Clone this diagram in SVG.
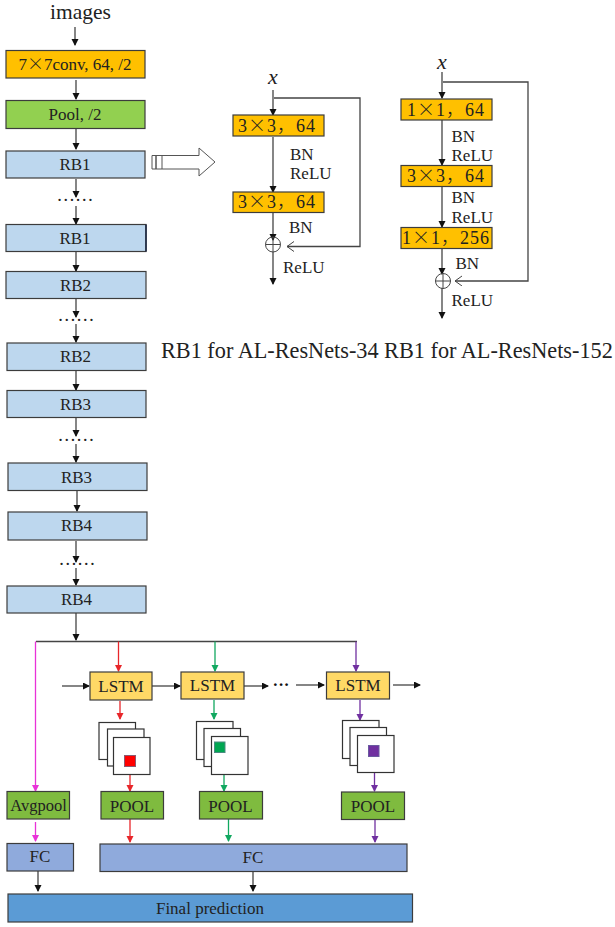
<svg xmlns="http://www.w3.org/2000/svg" width="615" height="927" viewBox="0 0 615 927">
<style>
text{font-family:"Liberation Serif","Times New Roman",serif;fill:#222;text-anchor:middle;font-size:17px}
.l{text-anchor:start}
.k{font-size:18px;letter-spacing:1px}
.h{font-family:"Noto Sans CJK SC",serif;font-weight:300}
.dots{font-size:18.500px}
.b{stroke:#3c3c3c;stroke-width:1.2}
.o{fill:#ffc000}.g{fill:#92d050}.p{fill:#7fbb3f}.r{fill:#bdd7ee}.y{fill:#ffd966}.f{fill:#8faadc}.d{fill:#5b9bd5}
.c{fill:none;stroke:#444;stroke-width:1.3}
.cr{stroke:#e8262a}.cg{stroke:#11a860}.cv{stroke:#7030a0}.cm{stroke:#e832d8}
.w{fill:#fff;stroke:#333;stroke-width:1.2}
</style>
<defs>
<marker id="a" markerWidth="8" markerHeight="8" refX="6" refY="3.500" orient="auto" markerUnits="userSpaceOnUse"><path d="M0 0L7 3.500L0 7Z" fill="#111"/></marker>
<marker id="ar" markerWidth="8" markerHeight="8" refX="6" refY="3.500" orient="auto" markerUnits="userSpaceOnUse"><path d="M0 0L7 3.500L0 7Z" fill="#e8262a"/></marker>
<marker id="ag" markerWidth="8" markerHeight="8" refX="6" refY="3.500" orient="auto" markerUnits="userSpaceOnUse"><path d="M0 0L7 3.500L0 7Z" fill="#11a860"/></marker>
<marker id="av" markerWidth="8" markerHeight="8" refX="6" refY="3.500" orient="auto" markerUnits="userSpaceOnUse"><path d="M0 0L7 3.500L0 7Z" fill="#7030a0"/></marker>
<marker id="am" markerWidth="8" markerHeight="8" refX="6" refY="3.500" orient="auto" markerUnits="userSpaceOnUse"><path d="M0 0L7 3.500L0 7Z" fill="#e832d8"/></marker>
<marker id="ao" markerWidth="10" markerHeight="12" refX="7" refY="5" orient="auto" markerUnits="userSpaceOnUse"><path d="M0 0L7 5L0 10" fill="none" stroke="#444" stroke-width="1"/></marker>
</defs>

<g id="connectors">
<g class="c">
<path d="M75 27V45" marker-end="url(#a)"/>
<path d="M76 80V99" marker-end="url(#a)"/>
<path d="M76 129V149" marker-end="url(#a)"/>
<path d="M76 179V197" marker-end="url(#a)"/>
<path d="M76 206V224" marker-end="url(#a)"/>
<path d="M76 252V271" marker-end="url(#a)"/>
<path d="M76 299V317" marker-end="url(#a)"/>
<path d="M76 324V342" marker-end="url(#a)"/>
<path d="M76 371V390" marker-end="url(#a)"/>
<path d="M76 418V436" marker-end="url(#a)"/>
<path d="M76 444V462" marker-end="url(#a)"/>
<path d="M77 491V511" marker-end="url(#a)"/>
<path d="M76 541V562" marker-end="url(#a)"/>
<path d="M76 568V585" marker-end="url(#a)"/>
<path d="M76 613V640" marker-end="url(#a)"/>
<path d="M36 641.500H357"/>
<path d="M62 686H89" marker-end="url(#a)"/>
<path d="M152 686H180" marker-end="url(#a)"/>
<path d="M241 686H268" marker-end="url(#a)"/>
<path d="M296 685H324" marker-end="url(#a)"/>
<path d="M393 685H420" marker-end="url(#a)"/>
<path d="M38 871V891" marker-end="url(#a)"/>
<path d="M253 872V891" marker-end="url(#a)"/>
<path d="M273 90V115" marker-end="url(#a)"/>
<path d="M273 137V192" marker-end="url(#a)"/>
<path d="M273 212V240" marker-end="url(#a)"/>
<path d="M273 252V284" marker-end="url(#a)"/>
<path d="M274 98H360V246.500H287" marker-end="url(#ao)"/>
<path d="M442 72V98" marker-end="url(#a)"/>
<path d="M442 120V165" marker-end="url(#a)"/>
<path d="M442 187V227" marker-end="url(#a)"/>
<path d="M442 249V274" marker-end="url(#a)"/>
<path d="M442 288V318" marker-end="url(#a)"/>
<path d="M443 82H528V281H455" marker-end="url(#ao)"/>
</g>
<g class="c cr">
<path d="M118.500 641.500V671" marker-end="url(#ar)"/>
<path d="M120 701V719" marker-end="url(#ar)"/>
<path d="M130 775V791" marker-end="url(#ar)"/>
<path d="M130 819V842" marker-end="url(#ar)"/>
</g>
<g class="c cg">
<path d="M215 641.500V671" marker-end="url(#ag)"/>
<path d="M214 700V719" marker-end="url(#ag)"/>
<path d="M224 774V791" marker-end="url(#ag)"/>
<path d="M228.500 819V841" marker-end="url(#ag)"/>
</g>
<g class="c cv">
<path d="M356 641.500V671" marker-end="url(#av)"/>
<path d="M360 700V720" marker-end="url(#av)"/>
<path d="M374.500 773V791" marker-end="url(#av)"/>
<path d="M375 819V842" marker-end="url(#av)"/>
</g>
<g class="c cm">
<path d="M35.500 641.500V791" marker-end="url(#am)"/>
<path d="M35.500 822V841" marker-end="url(#am)"/>
</g>
</g>

<text x="80.500" y="19.200" style="font-size:21.500px">images</text>
<g id="conv"><rect class="o b" x="6" y="50.500" width="139" height="27.500"/><text x="75" y="70">7<tspan class="h">×</tspan>7conv, 64, /2</text></g>
<g id="pool"><rect class="g b" x="6" y="100.500" width="139" height="28"/><text x="75" y="120">Pool, /2</text></g>
<g id="rb1a"><rect class="r b" x="6" y="151" width="139" height="27"/><text x="75" y="170">RB1</text></g>
<g id="rb1b"><rect class="r b" x="6" y="224.500" width="140" height="27"/><path d="M146 224.500V251.500" stroke="#1f2a44" stroke-width="1.600"/><text x="75" y="244">RB1</text></g>
<g id="rb2a"><rect class="r b" x="6" y="271.500" width="140" height="27"/><text x="75.500" y="291">RB2</text></g>
<g id="rb2b"><rect class="r b" x="7" y="343" width="139" height="27.500"/><text x="75.500" y="362">RB2</text></g>
<g id="rb3a"><rect class="r b" x="7" y="390.500" width="139" height="27"/><text x="75.500" y="410">RB3</text></g>
<g id="rb3b"><rect class="r b" x="8" y="463" width="139" height="27.500"/><text x="76.500" y="483">RB3</text></g>
<g id="rb4a"><rect class="r b" x="8" y="512" width="139" height="28"/><text x="76.500" y="531">RB4</text></g>
<g id="rb4b"><rect class="r b" x="7" y="586" width="139" height="27"/><text x="76.500" y="605">RB4</text></g>
<text class="dots" x="75" y="201">……</text>
<text class="dots" x="76" y="321">……</text>
<text class="dots" x="76" y="440.500">……</text>
<text class="dots" x="77" y="564.500">……</text>

<g id="expand-arrow"><path d="M152 155.500V169H156V155.500ZM156 155.500H162V169H156ZM162 155.500H199V148L215 162L199 176V169H162" fill="#fff" stroke="#555" stroke-width="1"/></g>

<g id="rb34">
<text x="273" y="84" style="font-size:22px;font-style:italic">x</text>
<g id="b34a"><rect class="o b" x="233" y="115" width="91" height="21"/><text class="k" x="277" y="132">3<tspan class="h">×</tspan>3<tspan class="h">，</tspan>64</text></g>
<g id="b34b"><rect class="o b" x="233" y="192" width="91" height="20.500"/><text class="k" x="277" y="208">3<tspan class="h">×</tspan>3<tspan class="h">，</tspan>64</text></g>
<circle cx="273" cy="244.500" r="7.500" fill="none" stroke="#444"/><path d="M265.500 244.500H280.500M273 237V252" stroke="#444" fill="none"/>
<text class="l" x="290" y="160">BN</text><text class="l" x="290" y="179">ReLU</text>
<text class="l" x="289" y="232.500">BN</text><text class="l" x="283" y="273">ReLU</text>
</g>

<g id="rb152">
<text x="442" y="69" style="font-size:22px;font-style:italic">x</text>
<g id="b152a"><rect class="o b" x="401" y="99" width="91" height="21"/><text class="k" x="446" y="116">1<tspan class="h">×</tspan>1<tspan class="h">，</tspan>64</text></g>
<g id="b152b"><rect class="o b" x="401" y="165.500" width="91" height="21"/><text class="k" x="446" y="182">3<tspan class="h">×</tspan>3<tspan class="h">，</tspan>64</text></g>
<g id="b152c"><rect class="o b" x="401" y="227.500" width="91" height="21"/><text class="k" x="446" y="244">1<tspan class="h">×</tspan>1<tspan class="h">，</tspan>256</text></g>
<circle cx="443" cy="281" r="7.500" fill="none" stroke="#444"/><path d="M435.500 281H450.500M443 273.500V288.500" stroke="#444" fill="none"/>
<text class="l" x="451.500" y="141.500">BN</text><text class="l" x="451.500" y="161">ReLU</text>
<text class="l" x="451.500" y="202.500">BN</text><text class="l" x="451.500" y="223">ReLU</text>
<text class="l" x="455.500" y="269">BN</text><text class="l" x="451.500" y="306">ReLU</text>
</g>

<text class="l" x="161" y="358" style="font-size:22.250px">RB1 for AL-ResNets-34 RB1 for AL-ResNets-152</text>

<g id="lstm1"><rect class="y b" x="90" y="672" width="62" height="28"/><text x="121" y="692">LSTM</text></g>
<g id="lstm2"><rect class="y b" x="181" y="672" width="63" height="27"/><text x="212.500" y="691">LSTM</text></g>
<g id="lstm3"><rect class="y b" x="326.500" y="672" width="63" height="27"/><text x="358" y="691">LSTM</text></g>
<text x="281" y="690" style="font-size:17px;font-weight:bold;fill:#111">···</text>

<g id="maps1"><rect class="w" x="99" y="722.500" width="36.500" height="37"/><rect class="w" x="107.500" y="729" width="36.500" height="37"/><rect class="w" x="113.500" y="737.500" width="36.500" height="37"/><rect x="124.500" y="755.500" width="11" height="11" fill="#ff0000" stroke="#8a5a70"/></g>
<g id="maps2"><rect class="w" x="196.500" y="721.500" width="36.500" height="38"/><rect class="w" x="204" y="728.500" width="36.500" height="38"/><rect class="w" x="211.500" y="736.500" width="36.500" height="38"/><rect x="214.500" y="742" width="10.500" height="10.500" fill="#00a651" stroke="#4a8a80"/></g>
<g id="maps3"><rect class="w" x="342.500" y="720.500" width="36.500" height="38"/><rect class="w" x="350" y="727.500" width="36.500" height="38"/><rect class="w" x="357.500" y="735.500" width="36.500" height="37"/><rect x="368.500" y="745.500" width="10.500" height="11" fill="#7030a0" stroke="#6a5aa0"/></g>

<g id="avgpool"><rect class="p b" x="7" y="791.500" width="62.500" height="27.500"/><text x="38.500" y="811" style="font-size:16.500px">Avgpool</text></g>
<g id="pool1"><rect class="p b" x="101" y="791.500" width="62.500" height="27.500"/><text x="132" y="811.500">POOL</text></g>
<g id="pool2"><rect class="p b" x="199.500" y="791.500" width="63" height="27.500"/><text x="230.500" y="811.500">POOL</text></g>
<g id="pool3"><rect class="p b" x="341.500" y="792" width="63" height="27.500"/><text x="373" y="812">POOL</text></g>
<g id="fc1"><rect class="f b" x="7" y="843.500" width="66.500" height="27.500"/><text x="40" y="862">FC</text></g>
<g id="fc2"><rect class="f b" x="100" y="844" width="307" height="27.500"/><text x="253" y="863">FC</text></g>
<g id="final"><rect class="d b" x="8" y="894" width="404.500" height="28"/><text x="210" y="913.500">Final prediction</text></g>
</svg>
